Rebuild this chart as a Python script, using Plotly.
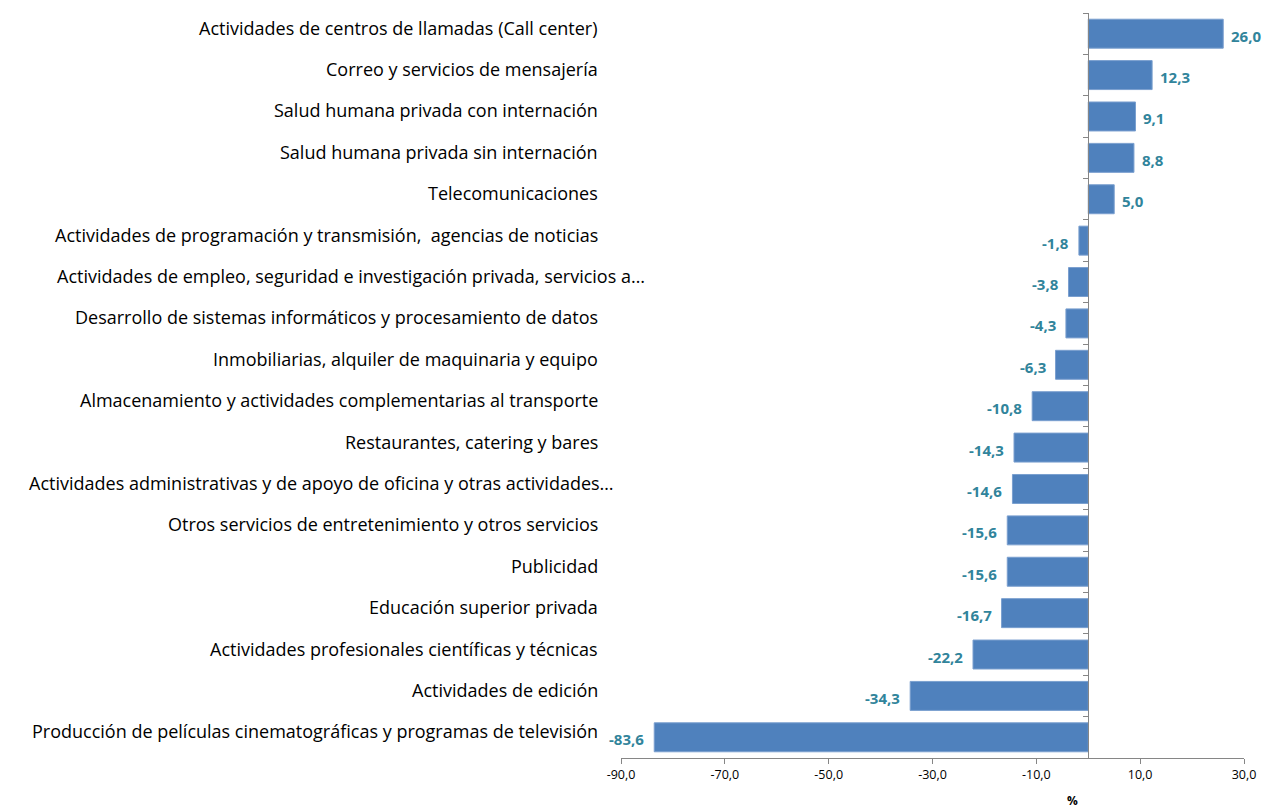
import plotly.graph_objects as go

categories = [
    "Actividades de centros de llamadas (Call center)",
    "Correo y servicios de mensajería",
    "Salud humana privada con internación",
    "Salud humana privada sin internación",
    "Telecomunicaciones",
    "Actividades de programación y transmisión,  agencias de noticias",
    "Actividades de empleo, seguridad e investigación privada, servicios a…",
    "Desarrollo de sistemas informáticos y procesamiento de datos",
    "Inmobiliarias, alquiler de maquinaria y equipo",
    "Almacenamiento y actividades complementarias al transporte",
    "Restaurantes, catering y bares",
    "Actividades administrativas y de apoyo de oficina y otras actividades…",
    "Otros servicios de entretenimiento y otros servicios",
    "Publicidad",
    "Educación superior privada",
    "Actividades profesionales científicas y técnicas",
    "Actividades de edición",
    "Producción de películas cinematográficas y programas de televisión",
]
values = [26.0, 12.3, 9.1, 8.8, 5.0, -1.8, -3.8, -4.3, -6.3, -10.8, -14.3,
          -14.6, -15.6, -15.6, -16.7, -22.2, -34.3, -83.6]
x_ticks = [-90, -70, -50, -30, -10, 10, 30]
x_tick_labels = [f"{t:.1f}".replace(".", ",") for t in x_ticks]
x_title = "%"

FONT = "Open Sans"
LABEL_COLOR = "#31849B"
GRAY = "#868686"

W, H = 1263, 802
L, R, T, B = 613, 27, 5, 52
PLOT_W = W - L - R

fig = go.Figure()
fig.add_trace(go.Bar(
    x=values, y=categories, orientation="h",
    marker=dict(color="#4F81BD", line=dict(color="#7A9FCF", width=1)),
    width=0.7,
    hoverinfo="x+y",
))

# data labels
for c, v in zip(categories, values):
    fig.add_annotation(
        x=v, y=c, xref="x", yref="y",
        xanchor="left" if v >= 0 else "right",
        xshift=6 if v >= 0 else -8, yshift=-2,
        text=f"<b>{v:.1f}</b>".replace(".", ","), showarrow=False,
        font=dict(family=FONT, size=15, color=LABEL_COLOR),
    )

# category labels (right-aligned left of plot area)
extra_shift = {
    "Actividades de empleo, seguridad e investigación privada, servicios a…": 47,
    "Actividades administrativas y de apoyo de oficina y otras actividades…": 16,
}
for c in categories:
    fig.add_annotation(
        x=0, xref="paper", y=c, yref="y", xanchor="right", yanchor="middle",
        xshift=-21 + extra_shift.get(c, 0), yshift=6, text=c, showarrow=False,
        font=dict(family=FONT, size=18, color="#000000"),
    )

plot_h = H - T - B
fig.add_annotation(
    x=(1072 - 621) / PLOT_W, xref="paper", y=-(792 - (H - B)) / plot_h, yref="paper",
    xshift=8,
    text=f"<b>{x_title}</b>", showarrow=False, yanchor="middle",
    font=dict(family=FONT, size=12, color="#000000"),
)

fig.update_layout(
    width=W, height=H,
    margin=dict(l=L, r=R, t=T, b=B),
    plot_bgcolor="white", paper_bgcolor="white",
    showlegend=False,
    xaxis=dict(
        range=[-90, 30], tickvals=x_ticks, ticktext=x_tick_labels,
        showgrid=False, zeroline=False, showline=True, linecolor=GRAY, linewidth=1,
        ticks="outside", ticklen=5, tickcolor=GRAY,
        tickfont=dict(family=FONT, size=12.5, color="#000000"),
    ),
    yaxis=dict(
        categoryorder="array", categoryarray=categories[::-1],
        anchor="free", position=0.75,
        showticklabels=False, showgrid=False, zeroline=False,
        showline=True, linecolor=GRAY, linewidth=1,
        ticks="outside", tickson="boundaries", ticklen=5, tickcolor=GRAY,
    ),
)

fig.write_html("out.html")
